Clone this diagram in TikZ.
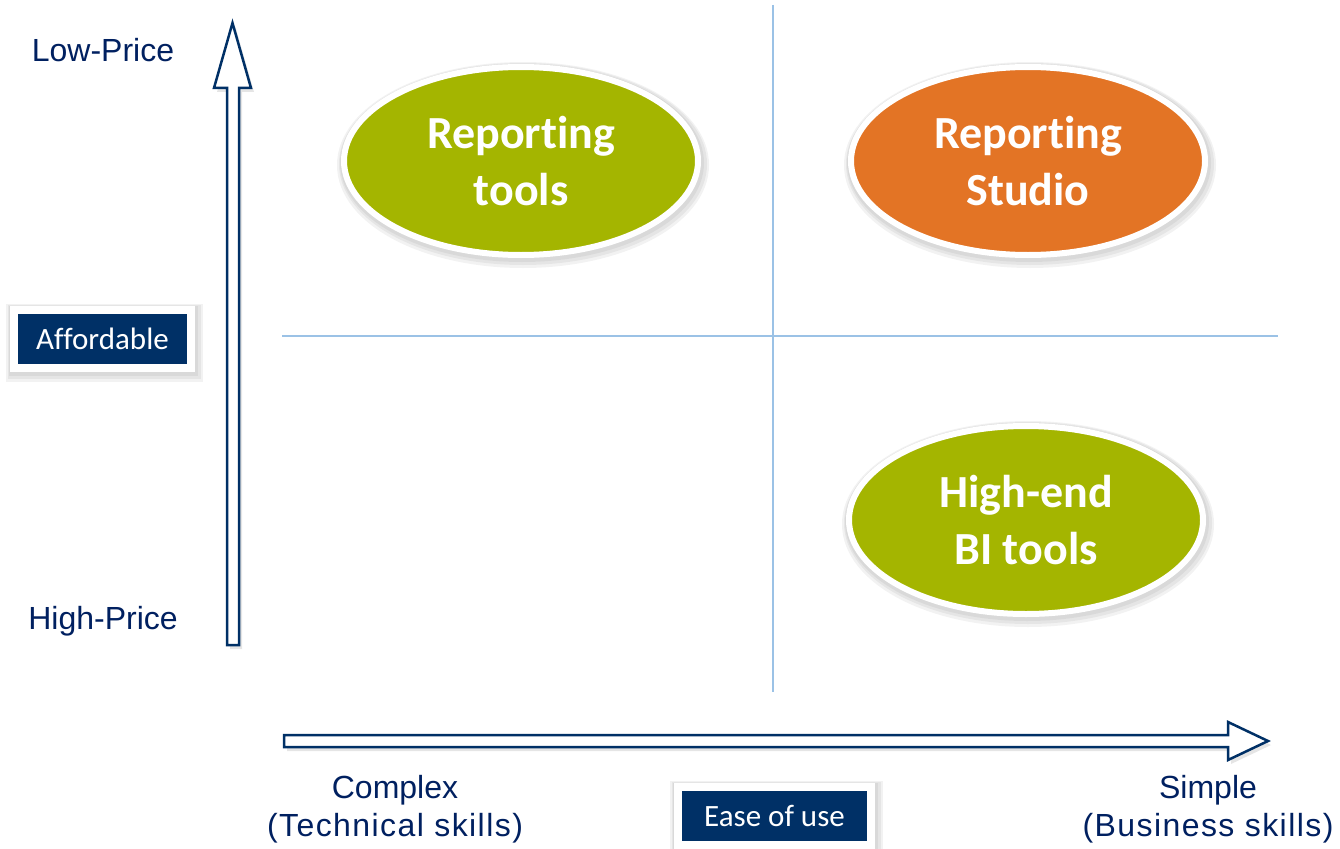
\documentclass[tikz,border=0pt]{standalone}
\usepackage{fontspec}
\setmainfont{Liberation Sans}
\newfontfamily\carlito[Ligatures={NoCommon}]{Carlito}
\usetikzlibrary{shapes.geometric,shadows}
\definecolor{navy}{RGB}{0,48,102}
\definecolor{textnavy}{RGB}{0,32,96}
\definecolor{bigreen}{RGB}{164,181,0}
\definecolor{bgorange}{RGB}{227,116,37}
\definecolor{gridblue}{RGB}{155,194,230}

\tikzset{
  halo/.style={
    preaction={draw=black, draw opacity=0.05, line width=#1+4pt,
      transform canvas={xshift=1pt, yshift=-2pt}},
    preaction={draw=black, draw opacity=0.05, line width=#1+8pt,
      transform canvas={xshift=2pt, yshift=-3pt}},
    preaction={draw=black, draw opacity=0.05, line width=#1+12pt,
      transform canvas={xshift=2pt, yshift=-4pt}}},
  quad/.style={ellipse, draw=white, line width=6pt, inner sep=0pt,
    minimum width=354pt, minimum height=188pt, text=white, align=center,
    font=\carlito\bfseries\fontsize{46}{57}\selectfont, halo=6pt},
  axisbox/.style={fill=navy, draw=white, line width=8pt, inner sep=0pt,
    minimum height=58pt, text=white,
    font=\carlito\fontsize{31}{36}\selectfont, halo=8pt},
  axislabel/.style={text=textnavy, align=center, inner sep=0pt,
    font=\fontsize{32}{38}\selectfont},
  axisarrow/.style={draw=navy, fill=white, line width=2.5pt, line join=miter,
    drop shadow={opacity=0.2, shadow xshift=3pt, shadow yshift=-4pt}},
  gridline/.style={draw=gridblue, line width=1.5pt}
}
\newcommand{\wide}{\addfontfeature{LetterSpace=4.5}}

\begin{document}
\begin{tikzpicture}[x=1pt, y=-1pt]
  \useasboundingbox[fill=white] (0,0) rectangle (1340,848);

  % quadrant lines
  \draw[gridline] (773,5) -- (773,692);
  \draw[gridline] (282,336) -- (1278,336);

  % axis arrows
  \draw[axisarrow] (227,645) -- (227,88) -- (214,88) -- (232.5,23)
    -- (251,88) -- (239,88) -- (239,645) -- cycle;
  \draw[axisarrow] (284,735) -- (1228,735) -- (1228,722) -- (1268,741)
    -- (1228,760) -- (1228,747) -- (284,747) -- cycle;

  % quadrants
  \node[quad, fill=bigreen] (reptools) at (521,161) {Reporting\\tools};
  \node[quad, fill=bgorange] (repstudio) at (1028,161) {Reporting\\Studio};
  \node[quad, fill=bigreen] (highend) at (1026,520) {High-end\\BI tools};

  % axis labels
  \node[axisbox, minimum width=177pt] (afford) at (102.5,339) {Affordable};
  \node[axisbox, minimum width=193pt] (ease) at (774.5,816) {Ease of use};
  \node[axislabel] (lowprice) at (103,50) {Low-Price};
  \node[axislabel] (highprice) at (103,621) {High-Price};
  \node[axislabel] (complex) at (395,809) {Complex\\{\wide(Technical skills)}};
  \node[axislabel] (simple) at (1208,809) {Simple\\{\wide(Business skills)}};
\end{tikzpicture}
\end{document}
